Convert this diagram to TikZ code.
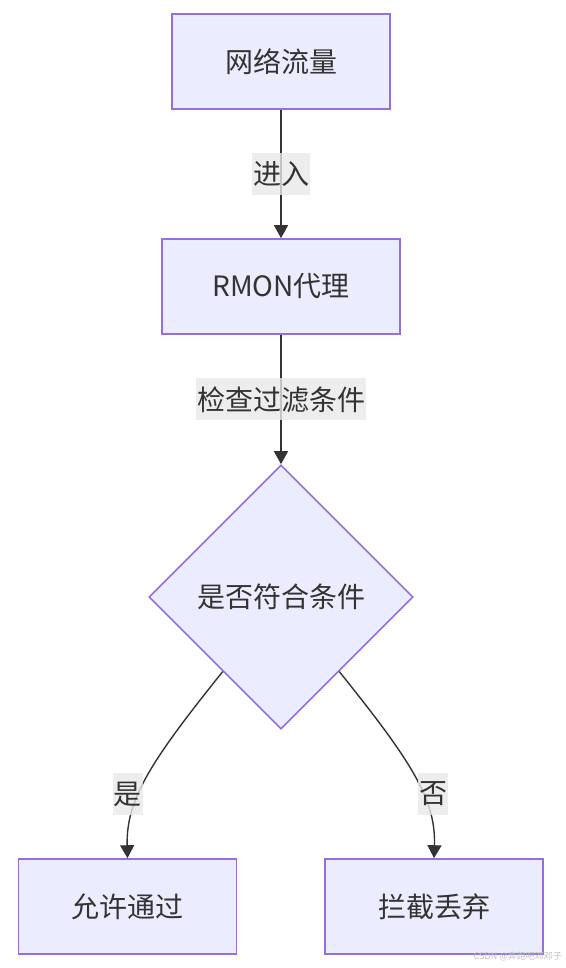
\documentclass[tikz,border=0pt]{standalone}
\usepackage{fontspec}
\setmainfont{Noto Sans CJK SC}
\usetikzlibrary{shapes.geometric,arrows.meta}
\definecolor{boxfill}{HTML}{ECECFF}
\definecolor{boxline}{HTML}{9370DB}
\definecolor{edgeclr}{HTML}{333333}
\definecolor{lblfill}{HTML}{E8E8E8}
\tikzset{
  stepbox/.style={draw=boxline,fill=boxfill,line width=1.6pt,minimum width=218pt,minimum height=95pt,inner xsep=50pt,text=edgeclr,font=\fontsize{28}{33}\selectfont},
  decide/.style={diamond,aspect=1,draw=boxline,fill=boxfill,line width=1.6pt,minimum width=264pt,minimum height=264pt,inner sep=0pt,text=edgeclr,font=\fontsize{28}{33}\selectfont},
  edgelbl/.style={fill=lblfill,fill opacity=0.8,text opacity=1,text=edgeclr,inner xsep=1pt,inner ysep=0pt,minimum height=42pt,font=\fontsize{28}{33}\selectfont},
  flow/.style={draw=edgeclr,line width=1.4pt,-{Triangle[length=13pt,width=14pt]}}
}
\begin{document}
\begin{tikzpicture}[x=1pt,y=-1pt]
\useasboundingbox (0,0) rectangle (565,968);
\node[stepbox] (traffic) at (281,61.5) {网络流量};
\node[stepbox] (agent) at (281,286.5) {RMON代理};
\node[decide] (check) at (281,597) {是否符合条件};
\node[stepbox] (allow) at (127.5,906.5) {允许通过};
\node[stepbox] (drop) at (434,906.5) {拦截丢弃};
\draw[flow] (traffic) -- (agent) node[midway,edgelbl] {进入};
\draw[flow] (agent) -- (check) node[midway,edgelbl] {检查过滤条件};
% 两条分支曲线
\draw[flow] (check.232) .. controls (150,762) and (126,800) .. (allow.north);
\draw[flow] (check.308) .. controls (412,762) and (436,800) .. (drop.north);
\node[edgelbl] (yes) at (127.5,794) {是};
\node[edgelbl] (no) at (433,794) {否};
\node[text=black!25,font=\fontsize{9}{10}\selectfont,inner sep=0pt,anchor=east] (mark) at (562,956) {CSDN @奔跑吧邓邓子};
\end{tikzpicture}
\end{document}
